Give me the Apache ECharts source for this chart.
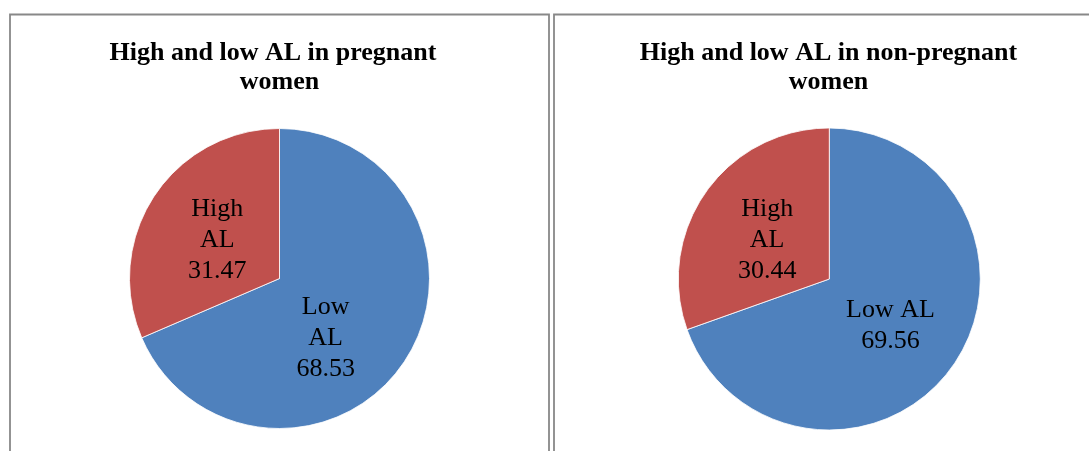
<!DOCTYPE html>
<html>
<head>
<meta charset="utf-8">
<style>
  html, body { margin: 0; padding: 0; background: #fff; }
  #chart { width: 1089px; height: 451px; }
</style>
<script src="https://cdn.jsdelivr.net/npm/echarts@6/dist/echarts.min.js"></script>
</head>
<body>
<div id="chart"></div>
<script>
// Share of high and low AL (%) in two groups of women
const categories = ['Low AL', 'High AL'];
const pregnantValues = [68.53, 31.47];
const nonPregnantValues = [69.56, 30.44];
const chartTitles = [
  'High and low AL in pregnant  \nwomen',
  'High and low AL in non-pregnant\nwomen'
];

const sliceColors = ['#4F81BD', '#C0504D'];
const serif = '"Liberation Serif", "Times New Roman", serif';

// stacked: category names whose words go on separate lines
function pieSeries(values, center, radius, stacked, labelOffsets) {
  return {
    type: 'pie',
    center: center,
    radius: radius,
    startAngle: 90,
    clockwise: true,
    silent: true,
    animation: false,
    itemStyle: { borderColor: '#ffffff', borderWidth: 0.8 },
    label: {
      show: true,
      position: 'inside',
      formatter: (p) => {
        const name = stacked.includes(p.name) ? p.name.split(' ').join('\n') : p.name;
        return name + '\n' + p.value.toFixed(2);
      },
      color: '#000',
      fontFamily: serif,
      fontSize: 26,
      lineHeight: 31,
      align: 'center'
    },
    labelLine: { show: false },
    data: categories.map((name, i) => ({
      name: name,
      value: values[i],
      itemStyle: { color: sliceColors[i] },
      label: { offset: labelOffsets[i] }
    }))
  };
}

const titleStyle = {
  fontFamily: serif,
  fontWeight: 'bold',
  fontSize: 26,
  lineHeight: 29,
  color: '#000'
};

const chart = echarts.init(document.getElementById('chart'), null, { renderer: 'canvas' });
chart.setOption({
  backgroundColor: '#ffffff',
  title: [
    { text: chartTitles[0], left: 279.5, top: 39, textAlign: 'center', padding: 0, textStyle: titleStyle },
    { text: chartTitles[1], left: 828.5, top: 39, textAlign: 'center', padding: 0, textStyle: titleStyle }
  ],
  graphic: [
    { type: 'rect', shape: { x: 10, y: 14.5, width: 539, height: 460 },
      style: { fill: null, stroke: '#888888', lineWidth: 1.8 }, silent: true },
    { type: 'rect', shape: { x: 554, y: 14.5, width: 560, height: 460 },
      style: { fill: null, stroke: '#888888', lineWidth: 1.8 }, silent: true }
  ],
  series: [
    pieSeries(pregnantValues, [279.5, 278.5], 150, ['Low AL', 'High AL'], [[-19, 17], [3, 5]]),
    pieSeries(nonPregnantValues, [829.3, 279], 151, ['High AL'], [[-3, 1], [2, 6]])
  ]
});
</script>
</body>
</html>
